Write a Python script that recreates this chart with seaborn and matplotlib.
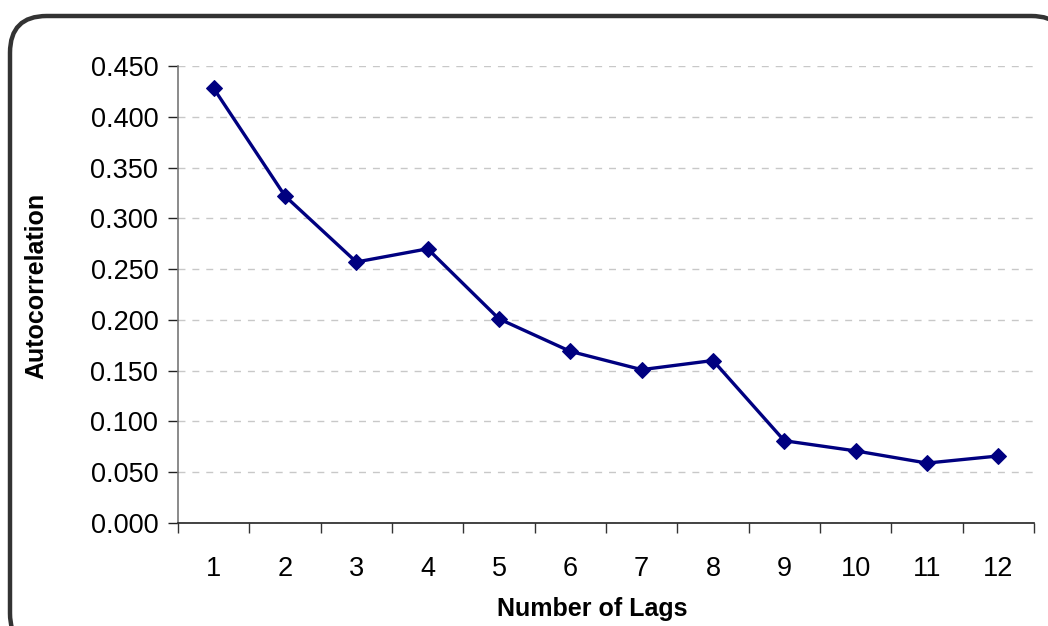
import matplotlib
matplotlib.use("Agg")
import matplotlib.pyplot as plt
from matplotlib.patches import FancyBboxPatch
import seaborn as sns
import pandas as pd

lags = [1, 2, 3, 4, 5, 6, 7, 8, 9, 10, 11, 12]
autocorr = [0.428, 0.322, 0.257, 0.270, 0.201, 0.169, 0.151, 0.160,
            0.081, 0.071, 0.059, 0.066]
y_ticks = [0.0, 0.05, 0.10, 0.15, 0.20, 0.25, 0.30, 0.35, 0.40, 0.45]

df = pd.DataFrame({"lag": lags, "acf": autocorr})

sns.set_theme(style="white")
plt.rcParams["font.family"] = ["Liberation Sans", "DejaVu Sans"]
plt.rcParams["text.color"] = "black"
plt.rcParams["axes.labelcolor"] = "black"
plt.rcParams["xtick.labelcolor"] = "black"
plt.rcParams["ytick.labelcolor"] = "black"

W, H = 1048, 626
fig = plt.figure(figsize=(W / 100, H / 100), dpi=100)

# rounded chart-area frame, drawn underneath the axes
frame = FancyBboxPatch((10 / W, 1 - 650 / H), 1058 / W, 634 / H,
                       boxstyle="round,pad=0,rounding_size=0.035",
                       transform=fig.transFigure, facecolor="white",
                       edgecolor="#333333", linewidth=3.2, zorder=-5,
                       mutation_aspect=W / H)
fig.patches.append(frame)

ax = fig.add_axes([178 / W, 1 - 523 / H, (1034 - 178) / W, (523 - 66) / H])
ax.set_zorder(2)
ax.set_facecolor("none")

# category positions: lag i sits in the middle of slot i
df["pos"] = df["lag"] - 0.5
sns.lineplot(data=df, x="pos", y="acf", ax=ax, color="#000080",
             linewidth=2.4, marker="D", markersize=8,
             markeredgecolor="#000080", markerfacecolor="#000080")

ax.set_xlim(0, len(lags))
ax.set_ylim(0, 0.45)
ax.set_yticks(y_ticks)
ax.set_yticklabels([f"{v:.3f}" for v in y_ticks], fontsize=19.5)
ax.set_xticks(range(0, len(lags) + 1))
ax.set_xticklabels([])
ax.set_xticks([p for p in df["pos"]], minor=True)
ax.set_xticklabels([str(l) for l in lags], minor=True, fontsize=19.5)
ax.tick_params(axis="x", which="minor", length=0, pad=24)
ax.tick_params(axis="x", which="major", length=7.2, width=1, color="#333333",
               direction="out", bottom=True)
ax.tick_params(axis="y", length=7.2, width=1, color="#222222",
               direction="out", left=True, pad=7)

ax.yaxis.grid(True, linestyle=(0, (5, 5)), color="#c8c8c8", linewidth=1)
ax.set_axisbelow(True)

for s in ["top", "right"]:
    ax.spines[s].set_visible(False)
ax.spines["left"].set_color("#777777")
ax.spines["left"].set_linewidth(1.2)
ax.spines["bottom"].set_color("#222222")
ax.spines["bottom"].set_linewidth(1.2)

ax.set_xlabel("Number of Lags", fontsize=18, fontweight="bold")
ax.set_ylabel("Autocorrelation", fontsize=18, fontweight="bold")
ax.xaxis.set_label_coords(0.4836, -0.162)
ax.yaxis.set_label_coords(-0.152, 0.519)

fig.savefig("out.png", dpi=100)
